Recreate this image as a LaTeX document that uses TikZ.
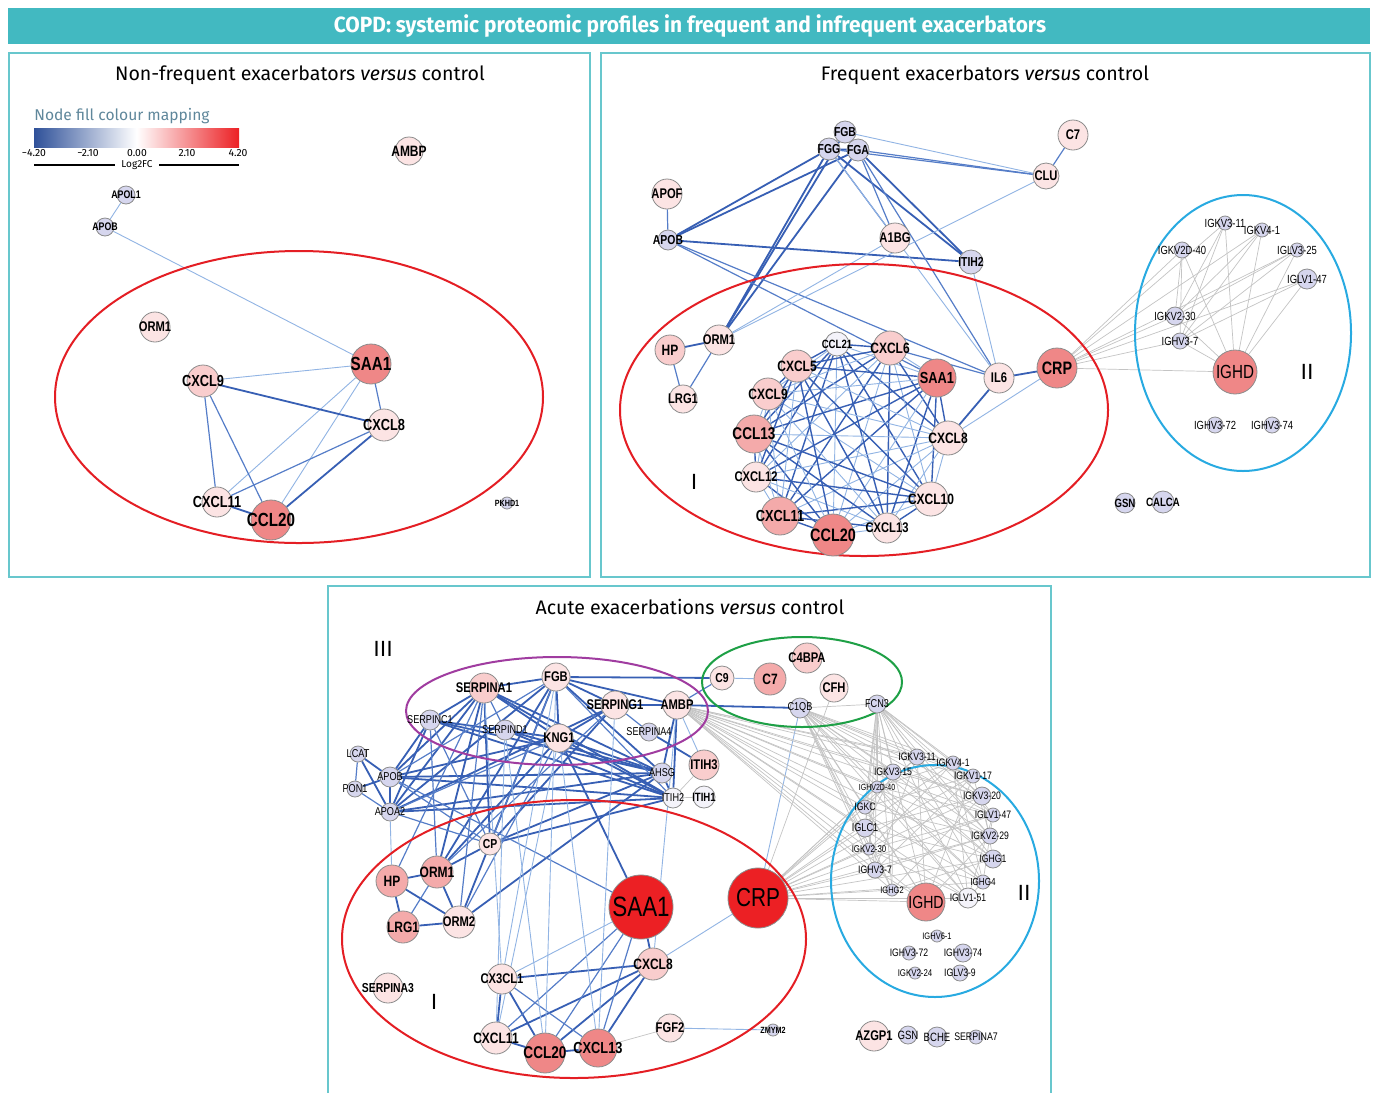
\documentclass[tikz,border=0pt]{standalone}
\usepackage{fontspec}
\setmainfont{Fira Sans}
\newfontfamily\gfont[FakeStretch=0.8]{Liberation Sans}
\newfontfamily\hfont[FakeStretch=0.95]{Fira Sans}
\newcommand{\fsz}[1]{\fontsize{#1}{#1}\selectfont}

% colours
\definecolor{hdr}{RGB}{66,185,193}
\definecolor{lav}{RGB}{214,214,238}
\definecolor{wht}{RGB}{244,243,250}
\definecolor{pk0}{RGB}{252,228,228}
\definecolor{pk1}{RGB}{249,205,205}
\definecolor{pk2}{RGB}{244,170,170}
\definecolor{pk3}{RGB}{239,135,135}
\definecolor{rd}{RGB}{236,32,36}
\definecolor{edk}{RGB}{55,95,180}
\definecolor{emd}{RGB}{85,125,200}
\definecolor{elt}{RGB}{145,180,228}
\definecolor{egy}{RGB}{196,196,196}
\definecolor{ringred}{RGB}{228,30,36}
\definecolor{ringblue}{RGB}{40,170,225}
\definecolor{ringgreen}{RGB}{30,160,70}
\definecolor{ringpurple}{RGB}{160,60,160}
\definecolor{legtxt}{RGB}{95,135,155}

\pgfdeclarelayer{edges}
\pgfdeclarelayer{rings}
\pgfsetlayers{edges,rings,main}

\tikzset{
  gene/.style={circle, draw=black!45, line width=0.4pt, inner sep=0pt, minimum size=#1pt},
  lb/.style={font={\gfont\bfseries\fsz{#1}}, inner sep=0pt},
  lr/.style={font={\gfont\fsz{#1}}, inner sep=0pt},
  e1/.style={draw=edk, line width=0.9pt},
  e2/.style={draw=emd, line width=0.6pt},
  ec/.style={draw=edk, line width=0.7pt},
  e3/.style={draw=elt, line width=0.45pt},
  eg/.style={draw=egy, line width=0.35pt},
  panel/.style={draw=hdr!80, line width=0.8pt},
  ring/.style={line width=1pt},
  roman/.style={font=\fsz{11}, inner sep=0pt}
}
% gene node: name, position, text, radius (px), fill, label style
\newcommand{\gene}[6]{\node[gene=#4, fill=#5, label={[#6]center:#3}] (#1) at (#2) {};}

\begin{document}
\begin{tikzpicture}[x=0.5pt, y=-0.5pt]
  \useasboundingbox (0,0) rectangle (1375,1093);
  \begin{pgfonlayer}{edges}
    \fill[white] (0,0) rectangle (1375,1093);
  \end{pgfonlayer}

  % header
  \fill[hdr] (8,8) rectangle (1370,44);
  \node[text=white, font={\hfont\bfseries\fsz{11}}] (head) at (690,26)
    {COPD: systemic proteomic profiles in frequent and infrequent exacerbators};

  % panels
  \draw[panel] (9,53) rectangle (590,577);
  \draw[panel] (601,53) rectangle (1370,577);
  \draw[panel] (328,1093) -- (328,586) -- (1051,586) -- (1051,1093);
  \node[font=\fsz{9.8}] (ta) at (300,75) {Non-frequent exacerbators \textit{versus} control};
  \node[font=\fsz{9.8}] (tb) at (985,75) {Frequent exacerbators \textit{versus} control};
  \node[font=\fsz{9.8}] (tc) at (690,607) {Acute exacerbations \textit{versus} control};

  % legend
  \node[anchor=west, text=legtxt, font=\fsz{7.8}, inner sep=0pt] (legt) at (34,116) {Node fill colour mapping};
  \shade[left color=edk!85!black, right color=rd, middle color=white] (34,128) rectangle (239,147);
  \foreach \x/\t in {34/−4.20, 88/−2.10, 137/0.00, 187/2.10, 238/4.20}
    \node[font=\fsz{5.2}, inner sep=0pt] at (\x,153) {\t};
  \node[font=\fsz{5}, inner sep=0pt] (log) at (137,165) {Log2FC};
  \draw[line width=0.8pt] (34,165) -- (115,165) (159,165) -- (239,165);

  %% ---------- panel a: non-frequent ----------
  \gene{aAMBP}{409,151}{AMBP}{14}{pk0}{lb=7.5}
  \gene{aAPOL1}{126,195}{APOL1}{9}{lav}{lb=5.5}
  \gene{aAPOB}{105,227}{APOB}{9}{lav}{lb=5.5}
  \gene{aORM1}{155,327}{ORM1}{15}{pk0}{lb=7}
  \gene{aSAA1}{371,364}{SAA1}{20}{pk3}{lb=9.5}
  \gene{aCXCL9}{203,381}{CXCL9}{16}{pk1}{lb=8}
  \gene{aCXCL8}{384,425}{CXCL8}{16}{pk0}{lb=8}
  \gene{aCXCL11}{217,502}{CXCL11}{15}{pk0}{lb=8}
  \gene{aCCL20}{271,520}{CCL20}{20}{pk3}{lb=9.5}
  \gene{aPKHD1}{507,503}{PKHD1}{6}{lav}{lb=4.5}

  %% ---------- panel b: frequent ----------
  \gene{bFGB}{845,132}{FGB}{11}{lav}{lb=6.5}
  \gene{bFGG}{829,149}{FGG}{11}{lav}{lb=6.5}
  \gene{bFGA}{858,150}{FGA}{11}{lav}{lb=6.5}
  \gene{bC7}{1073,135}{C7}{15}{pk0}{lb=7}
  \gene{bCLU}{1046,176}{CLU}{13}{pk0}{lb=7}
  \gene{bAPOF}{667,194}{APOF}{15}{pk0}{lb=7}
  \gene{bAPOB}{668,240}{APOB}{10}{lav}{lb=6.5}
  \gene{bA1BG}{895,238}{A1BG}{15}{pk0}{lb=7}
  \gene{bITIH2}{971,262}{ITIH2}{12}{lav}{lb=6.5}
  \gene{bHP}{670,350}{HP}{15}{pk1}{lb=7.5}
  \gene{bORM1}{719,340}{ORM1}{15}{pk0}{lb=7}
  \gene{bLRG1}{683,399}{LRG1}{14}{pk0}{lb=7}
  \gene{bCCL21}{837,344}{CCL21}{12}{wht}{lb=6}
  \gene{bCXCL6}{890,348}{CXCL6}{17}{pk1}{lb=7.5}
  \gene{bCXCL5}{797,366}{CXCL5}{16}{pk1}{lb=7.5}
  \gene{bSAA1}{937,378}{SAA1}{19}{pk3}{lb=8}
  \gene{bIL6}{999,378}{IL6}{15}{pk0}{lb=7}
  \gene{bCRP}{1057,368}{CRP}{20}{pk3}{lb=9}
  \gene{bCXCL9}{768,394}{CXCL9}{16}{pk1}{lb=7.5}
  \gene{bCCL13}{754,434}{CCL13}{19}{pk2}{lb=8.5}
  \gene{bCXCL8}{948,438}{CXCL8}{17}{pk0}{lb=7.5}
  \gene{bCXCL12}{756,477}{CXCL12}{15}{pk0}{lb=7}
  \gene{bCXCL10}{931,499}{CXCL10}{17}{pk0}{lb=7.5}
  \gene{bCXCL11}{780,516}{CXCL11}{19}{pk2}{lb=8}
  \gene{bCCL20}{833,535}{CCL20}{21}{pk3}{lb=9}
  \gene{bCXCL13}{887,528}{CXCL13}{15}{pk0}{lb=7}
  \gene{bIGKV311}{1225,223}{IGKV3-11}{7}{lav}{lr=5.9}
  \gene{bIGKV41}{1262,230}{IGKV4-1}{7}{lav}{lr=5.9}
  \gene{bIGKV2D40}{1182,250}{IGKV2D-40}{8}{lav}{lr=5.9}
  \gene{bIGLV325}{1297,250}{IGLV3-25}{7}{lav}{lr=5.9}
  \gene{bIGLV147}{1307,279}{IGLV1-47}{10}{lav}{lr=5.9}
  \gene{bIGKV230}{1175,316}{IGKV2-30}{9}{lav}{lr=5.9}
  \gene{bIGHV37}{1180,341}{IGHV3-7}{8}{lav}{lr=5.9}
  \gene{bIGHD}{1235,372}{IGHD}{22}{pk3}{lr=9.5}
  \gene{bIGHV372}{1215,425}{IGHV3-72}{8}{lav}{lr=5.9}
  \gene{bIGHV374}{1272,425}{IGHV3-74}{8}{lav}{lr=5.9}
  \gene{bGSN}{1125,503}{GSN}{10}{lav}{lb=6}
  \gene{bCALCA}{1163,502}{CALCA}{11}{lav}{lb=6}
  \node[roman] (bI) at (694,482) {I};
  \node[roman] (bII) at (1307,372) {II};

  %% ---------- panel c: acute ----------
  \gene{cFGB}{556,677}{FGB}{14}{pk0}{lb=7}
  \gene{cSERPINA1}{484,688}{SERPINA1}{15}{pk1}{lb=7}
  \gene{cSERPING1}{615,705}{SERPING1}{14}{pk0}{lb=7}
  \gene{cAMBP}{677,705}{AMBP}{14}{pk0}{lb=7}
  \gene{cSERPINC1}{430,720}{SERPINC1}{10}{lav}{lr=5.7}
  \gene{cSERPIND1}{505,730}{SERPIND1}{10}{lav}{lr=5.7}
  \gene{cKNG1}{559,738}{KNG1}{14}{pk0}{lb=7}
  \gene{cSERPINA4}{649,732}{SERPINA4}{9}{lav}{lr=5.7}
  \gene{cLCAT}{358,754}{LCAT}{8}{lav}{lr=5.7}
  \gene{cAPOB}{390,777}{APOB}{10}{lav}{lr=5.7}
  \gene{cPON1}{355,789}{PON1}{8}{lav}{lr=5.7}
  \gene{cAPOA2}{390,812}{APOA2}{9}{lav}{lr=5.7}
  \gene{cAHSG}{662,773}{AHSG}{10}{lav}{lr=5.7}
  \gene{cITIH3}{704,765}{ITIH3}{15}{pk1}{lb=7}
  \gene{cITIH2}{673,798}{ITIH2}{10}{wht}{lr=5.7}
  \gene{cITIH1}{704,797}{ITIH1}{11}{wht}{lb=6}
  \gene{cCP}{490,844}{CP}{11}{pk0}{lb=6.5}
  \gene{cC9}{722,678}{C9}{12}{pk0}{lb=6.5}
  \gene{cC7}{770,679}{C7}{16}{pk2}{lb=7.5}
  \gene{cC4BPA}{807,658}{C4BPA}{15}{pk1}{lb=7}
  \gene{cCFH}{834,688}{CFH}{14}{pk0}{lb=7}
  \gene{cC1QB}{800,708}{C1QB}{10}{lav}{lr=5.7}
  \gene{cFCN3}{877,704}{FCN3}{9}{lav}{lr=5.7}
  \gene{cHP}{392,881}{HP}{16}{pk2}{lb=7.5}
  \gene{cORM1}{437,872}{ORM1}{16}{pk2}{lb=7.5}
  \gene{cLRG1}{403,927}{LRG1}{16}{pk2}{lb=7.5}
  \gene{cORM2}{459,922}{ORM2}{16}{pk0}{lb=7}
  \gene{cSAA1}{641,907}{SAA1}{32}{rd}{lr=14}
  \gene{cCRP}{758,898}{CRP}{30}{rd}{lr=13}
  \gene{cCXCL8}{653,964}{CXCL8}{16}{pk1}{lb=7.5}
  \gene{cCX3CL1}{502,979}{CX3CL1}{15}{pk0}{lb=7}
  \gene{cSERPINA3}{388,988}{SERPINA3}{15}{pk0}{lb=6.5}
  \gene{cCXCL11}{496,1038}{CXCL11}{16}{pk0}{lb=7.5}
  \gene{cCCL20}{545,1053}{CCL20}{20}{pk3}{lb=8.5}
  \gene{cCXCL13}{598,1048}{CXCL13}{19}{pk3}{lb=8}
  \gene{cFGF2}{670,1028}{FGF2}{14}{pk0}{lb=7}
  \gene{cZMYM2}{773,1030}{ZMYM2}{6}{lav}{lb=4.5}
  \gene{cAZGP1}{874,1036}{AZGP1}{15}{pk0}{lb=7}
  \gene{cGSN}{908,1035}{GSN}{9}{lav}{lr=6}
  \gene{cBCHE}{937,1037}{BCHE}{10}{lav}{lr=6}
  \gene{cSERPINA7}{976,1037}{SERPINA7}{7}{lav}{lr=5.5}
  \gene{cIGKV311}{917,757}{IGKV3-11}{8}{lav}{lr=5.4}
  \gene{cIGKV41}{953,763}{IGKV4-1}{7}{lav}{lr=5.4}
  \gene{cIGKV315}{893,772}{IGKV3-15}{8}{lav}{lr=5.4}
  \gene{cIGKV117}{973,776}{IGKV1-17}{7}{lav}{lr=5.4}
  \gene{cIGHV2D40}{877,787}{IGHV2D-40}{6}{lav}{lr=4.4}
  \gene{cIGKV320}{982,796}{IGKV3-20}{9}{lav}{lr=5.4}
  \gene{cIGKC}{865,807}{IGKC}{7}{lav}{lr=5.4}
  \gene{cIGLV147}{993,815}{IGLV1-47}{7}{lav}{lr=5.4}
  \gene{cIGLC1}{865,828}{IGLC1}{9}{lav}{lr=5.7}
  \gene{cIGKV229}{990,836}{IGKV2-29}{8}{lav}{lr=5.4}
  \gene{cIGKV230}{869,849}{IGKV2-30}{6}{lav}{lr=4.9}
  \gene{cIGHG1}{993,859}{IGHG1}{9}{lav}{lr=5.4}
  \gene{cIGHV37}{875,870}{IGHV3-7}{8}{lav}{lr=5.4}
  \gene{cIGHG4}{983,882}{IGHG4}{7}{lav}{lr=5.1}
  \gene{cIGHG2}{892,890}{IGHG2}{6}{lav}{lr=4.7}
  \gene{cIGHD}{926,902}{IGHD}{19}{pk3}{lr=8.8}
  \gene{cIGLV151}{968,898}{IGLV1-51}{10}{wht}{lr=5.4}
  \gene{cIGHV61}{937,936}{IGHV6-1}{6}{lav}{lr=4.7}
  \gene{cIGHV372}{909,953}{IGHV3-72}{7}{lav}{lr=5.4}
  \gene{cIGHV374}{963,953}{IGHV3-74}{9}{lav}{lr=5.4}
  \gene{cIGKV224}{915,973}{IGKV2-24}{6}{lav}{lr=4.9}
  \gene{cIGLV39}{960,973}{IGLV3-9}{8}{lav}{lr=5.4}
  \node[roman] (cIII) at (383,649) {III};
  \node[roman] (cI) at (434,1002) {I};
  \node[roman] (cII) at (1024,893) {II};

  %% ---------- rings ----------
  \begin{pgfonlayer}{rings}
    \draw[ring, ringred] (299,397) ellipse [x radius=244, y radius=146];
    \draw[ring, ringred] (864,410) ellipse [x radius=244, y radius=146];
    \draw[ring, ringblue] (1243,333) ellipse [x radius=108, y radius=138];
    \draw[ring, ringred] (574,939) ellipse [x radius=232, y radius=139];
    \draw[ring, ringblue] (935,881) ellipse [x radius=104, y radius=116];
    \draw[ring, ringgreen] (802,682) ellipse [x radius=100, y radius=45];
    \draw[ring, ringpurple] (557,711) ellipse [x radius=151, y radius=54];
  \end{pgfonlayer}

  %% ---------- edges ----------
  \begin{pgfonlayer}{edges}
    % panel a
    \foreach \u/\v in {aAPOL1/aAPOB, aAPOB/aSAA1, aCXCL9/aSAA1, aSAA1/aCXCL11, aSAA1/aCCL20}
      \draw[e3] (\u) -- (\v);
    \foreach \u/\v in {aCXCL9/aCXCL11, aCXCL9/aCCL20, aSAA1/aCXCL8, aCXCL8/aCXCL11}
      \draw[e2] (\u) -- (\v);
    \foreach \u/\v in {aCXCL9/aCXCL8, aCXCL8/aCCL20, aCXCL11/aCCL20}
      \draw[e1] (\u) -- (\v);

    % panel b
    \foreach \u/\v in {bFGG/bFGA, bAPOB/bFGG, bAPOB/bFGA, bFGG/bORM1, bFGA/bORM1, bFGB/bORM1,
        bFGG/bITIH2, bFGA/bITIH2, bAPOB/bITIH2, bHP/bORM1, bIL6/bCRP, bIL6/bCXCL8}
      \draw[e1] (\u) -- (\v);
    \foreach \u/\v in {bFGG/bA1BG, bFGA/bA1BG, bFGA/bIL6, bFGG/bCLU, bFGA/bCLU, bC7/bCLU,
        bAPOF/bAPOB, bFGB/bFGG, bFGB/bFGA, bAPOB/bSAA1, bAPOB/bIL6, bORM1/bLRG1, bHP/bLRG1,
        bCXCL6/bIL6}
      \draw[e2] (\u) -- (\v);
    \foreach \u/\v in {bFGB/bCLU, bCLU/bORM1, bA1BG/bORM1, bFGG/bIL6, bITIH2/bIL6, bCRP/bCXCL8}
      \draw[e3] (\u) -- (\v);
    % chemokine cluster
    \foreach \u [count=\i] in {bCCL21,bCXCL6,bSAA1,bCXCL8,bCXCL10,bCXCL13,bCCL20,bCXCL11,bCXCL12,bCCL13,bCXCL9,bCXCL5}{
      \foreach \v [count=\j] in {bCCL21,bCXCL6,bSAA1,bCXCL8,bCXCL10,bCXCL13,bCCL20,bCXCL11,bCXCL12,bCCL13,bCXCL9,bCXCL5}{
        \ifnum\j>\i
          \pgfmathtruncatemacro\k{mod(\i*\j+\i,4)}
          \ifnum\k=0 \draw[e3] (\u) -- (\v); \else \draw[ec] (\u) -- (\v); \fi
        \fi
      }
    }
    % immunoglobulins
    \foreach \t in {bIGKV311,bIGKV41,bIGKV2D40,bIGLV325,bIGLV147,bIGKV230,bIGHV37,bIGHD}
      \draw[eg] (bCRP) -- (\t);
    \foreach \t in {bIGKV311,bIGKV41,bIGKV2D40,bIGLV325,bIGLV147,bIGKV230,bIGHV37}
      \draw[eg] (bIGHD) -- (\t);
    \foreach \t in {bIGKV311,bIGKV41,bIGLV325,bIGLV147,bIGKV2D40}
      \draw[eg] (bIGHV37) -- (\t);
    \foreach \t in {bIGKV2D40,bIGKV311,bIGLV325,bIGKV41}
      \draw[eg] (bIGKV230) -- (\t);

    % panel c
    \foreach \u/\v in {cSERPINA1/cAHSG, cSERPINA1/cITIH2, cSERPINA1/cAPOB, cSERPINA1/cAPOA2,
        cSERPINA1/cORM1, cSERPINA1/cCP, cSERPINA1/cFGB, cSERPINA1/cKNG1, cSERPINA1/cSERPINC1,
        cFGB/cSERPING1, cFGB/cAMBP, cFGB/cC9, cFGB/cKNG1, cFGB/cAPOA2, cFGB/cORM1, cFGB/cORM2,
        cFGB/cAHSG, cSERPINC1/cAHSG, cSERPINC1/cITIH2, cSERPINC1/cKNG1, cSERPINC1/cAPOA2,
        cSERPINC1/cAPOB, cSERPIND1/cAHSG, cSERPIND1/cITIH2, cKNG1/cAHSG, cKNG1/cITIH2,
        cKNG1/cAPOB, cKNG1/cORM1, cKNG1/cSAA1, cKNG1/cSERPING1, cAPOB/cAHSG, cAPOB/cITIH2,
        cAPOB/cLCAT, cAPOB/cAPOA2, cAPOB/cPON1, cAPOA2/cAHSG, cAPOA2/cITIH2, cAPOA2/cLCAT,
        cSERPING1/cAMBP, cSERPING1/cAPOA2, cSERPING1/cCP, cAMBP/cAHSG, cAMBP/cITIH2, cAMBP/cC1QB,
        cAHSG/cITIH2, cAHSG/cCP, cAHSG/cORM2, cITIH2/cCP, cSERPINA4/cITIH3,
        cHP/cORM1, cHP/cLRG1, cHP/cORM2, cORM1/cORM2, cORM1/cCP, cLRG1/cORM2,
        cSAA1/cCXCL8, cCX3CL1/cCXCL8, cCXCL11/cCCL20, cCCL20/cCXCL8, cCXCL11/cCXCL8,
        cCX3CL1/cCCL20, cCX3CL1/cCXCL11, cCCL20/cCXCL13, cCXCL13/cCXCL8}
      \draw[e1] (\u) -- (\v);
    \foreach \u/\v in {cSERPINA1/cORM2, cSERPINA1/cHP, cFGB/cITIH2, cFGB/cCP, cFGB/cAPOB,
        cSERPIND1/cSERPINA1, cSERPINC1/cCP, cSERPINC1/cORM1, cKNG1/cAPOA2, cKNG1/cORM2,
        cAPOB/cCP, cAPOB/cSAA1, cAPOA2/cCP, cSERPING1/cORM1, cAMBP/cC9, cLCAT/cPON1,
        cPON1/cAPOA2, cORM1/cLRG1, cSAA1/cCXCL13, cSAA1/cCXCL11, cSAA1/cCCL20,
        cCX3CL1/cCXCL13, cSERPINA4/cSERPING1}
      \draw[e2] (\u) -- (\v);
    \foreach \u/\v in {cAPOA2/cHP, cC9/cC7, cCRP/cC1QB, cCRP/cCXCL8, cFGF2/cZMYM2, cSAA1/cCX3CL1,
        cKNG1/cCXCL11, cFGB/cCCL20, cSERPING1/cCXCL13, cSERPINA1/cCX3CL1, cKNG1/cCXCL13,
        cAMBP/cITIH3, cSERPIND1/cCCL20, cFGB/cCX3CL1, cSERPIND1/cCXCL11, cAMBP/cCXCL8}
      \draw[e3] (\u) -- (\v);
    \foreach \u/\v in {cITIH2/cITIH1, cITIH3/cITIH2, cFGF2/cCXCL13, cCFH/cCRP, cC1QB/cFCN3}
      \draw[eg] (\u) -- (\v);
    % immunoglobulin fan
    \foreach \s in {cAMBP,cC1QB,cFCN3,cCRP}{
      \foreach \t in {cIGKV311,cIGKV41,cIGKV315,cIGKV117,cIGHV2D40,cIGKV320,cIGKC,cIGLV147,
          cIGLC1,cIGKV229,cIGKV230,cIGHG1,cIGHV37,cIGHG4,cIGHG2,cIGHD,cIGLV151}
        \draw[eg] (\s) -- (\t);
    }
    \foreach \u [count=\i] in {cIGKV311,cIGKV41,cIGKV315,cIGKV117,cIGHV2D40,cIGKV320,cIGKC,cIGLV147,
        cIGLC1,cIGKV229,cIGKV230,cIGHG1,cIGHV37,cIGHG4,cIGHG2,cIGHD,cIGLV151}{
      \foreach \v [count=\j] in {cIGKV311,cIGKV41,cIGKV315,cIGKV117,cIGHV2D40,cIGKV320,cIGKC,cIGLV147,
          cIGLC1,cIGKV229,cIGKV230,cIGHG1,cIGHV37,cIGHG4,cIGHG2,cIGHD,cIGLV151}{
        \ifnum\j>\i
          \pgfmathtruncatemacro\k{mod(\i+2*\j,3)}
          \ifnum\k=0 \draw[eg] (\u) -- (\v); \fi
        \fi
      }
    }
  \end{pgfonlayer}
\end{tikzpicture}
\end{document}
